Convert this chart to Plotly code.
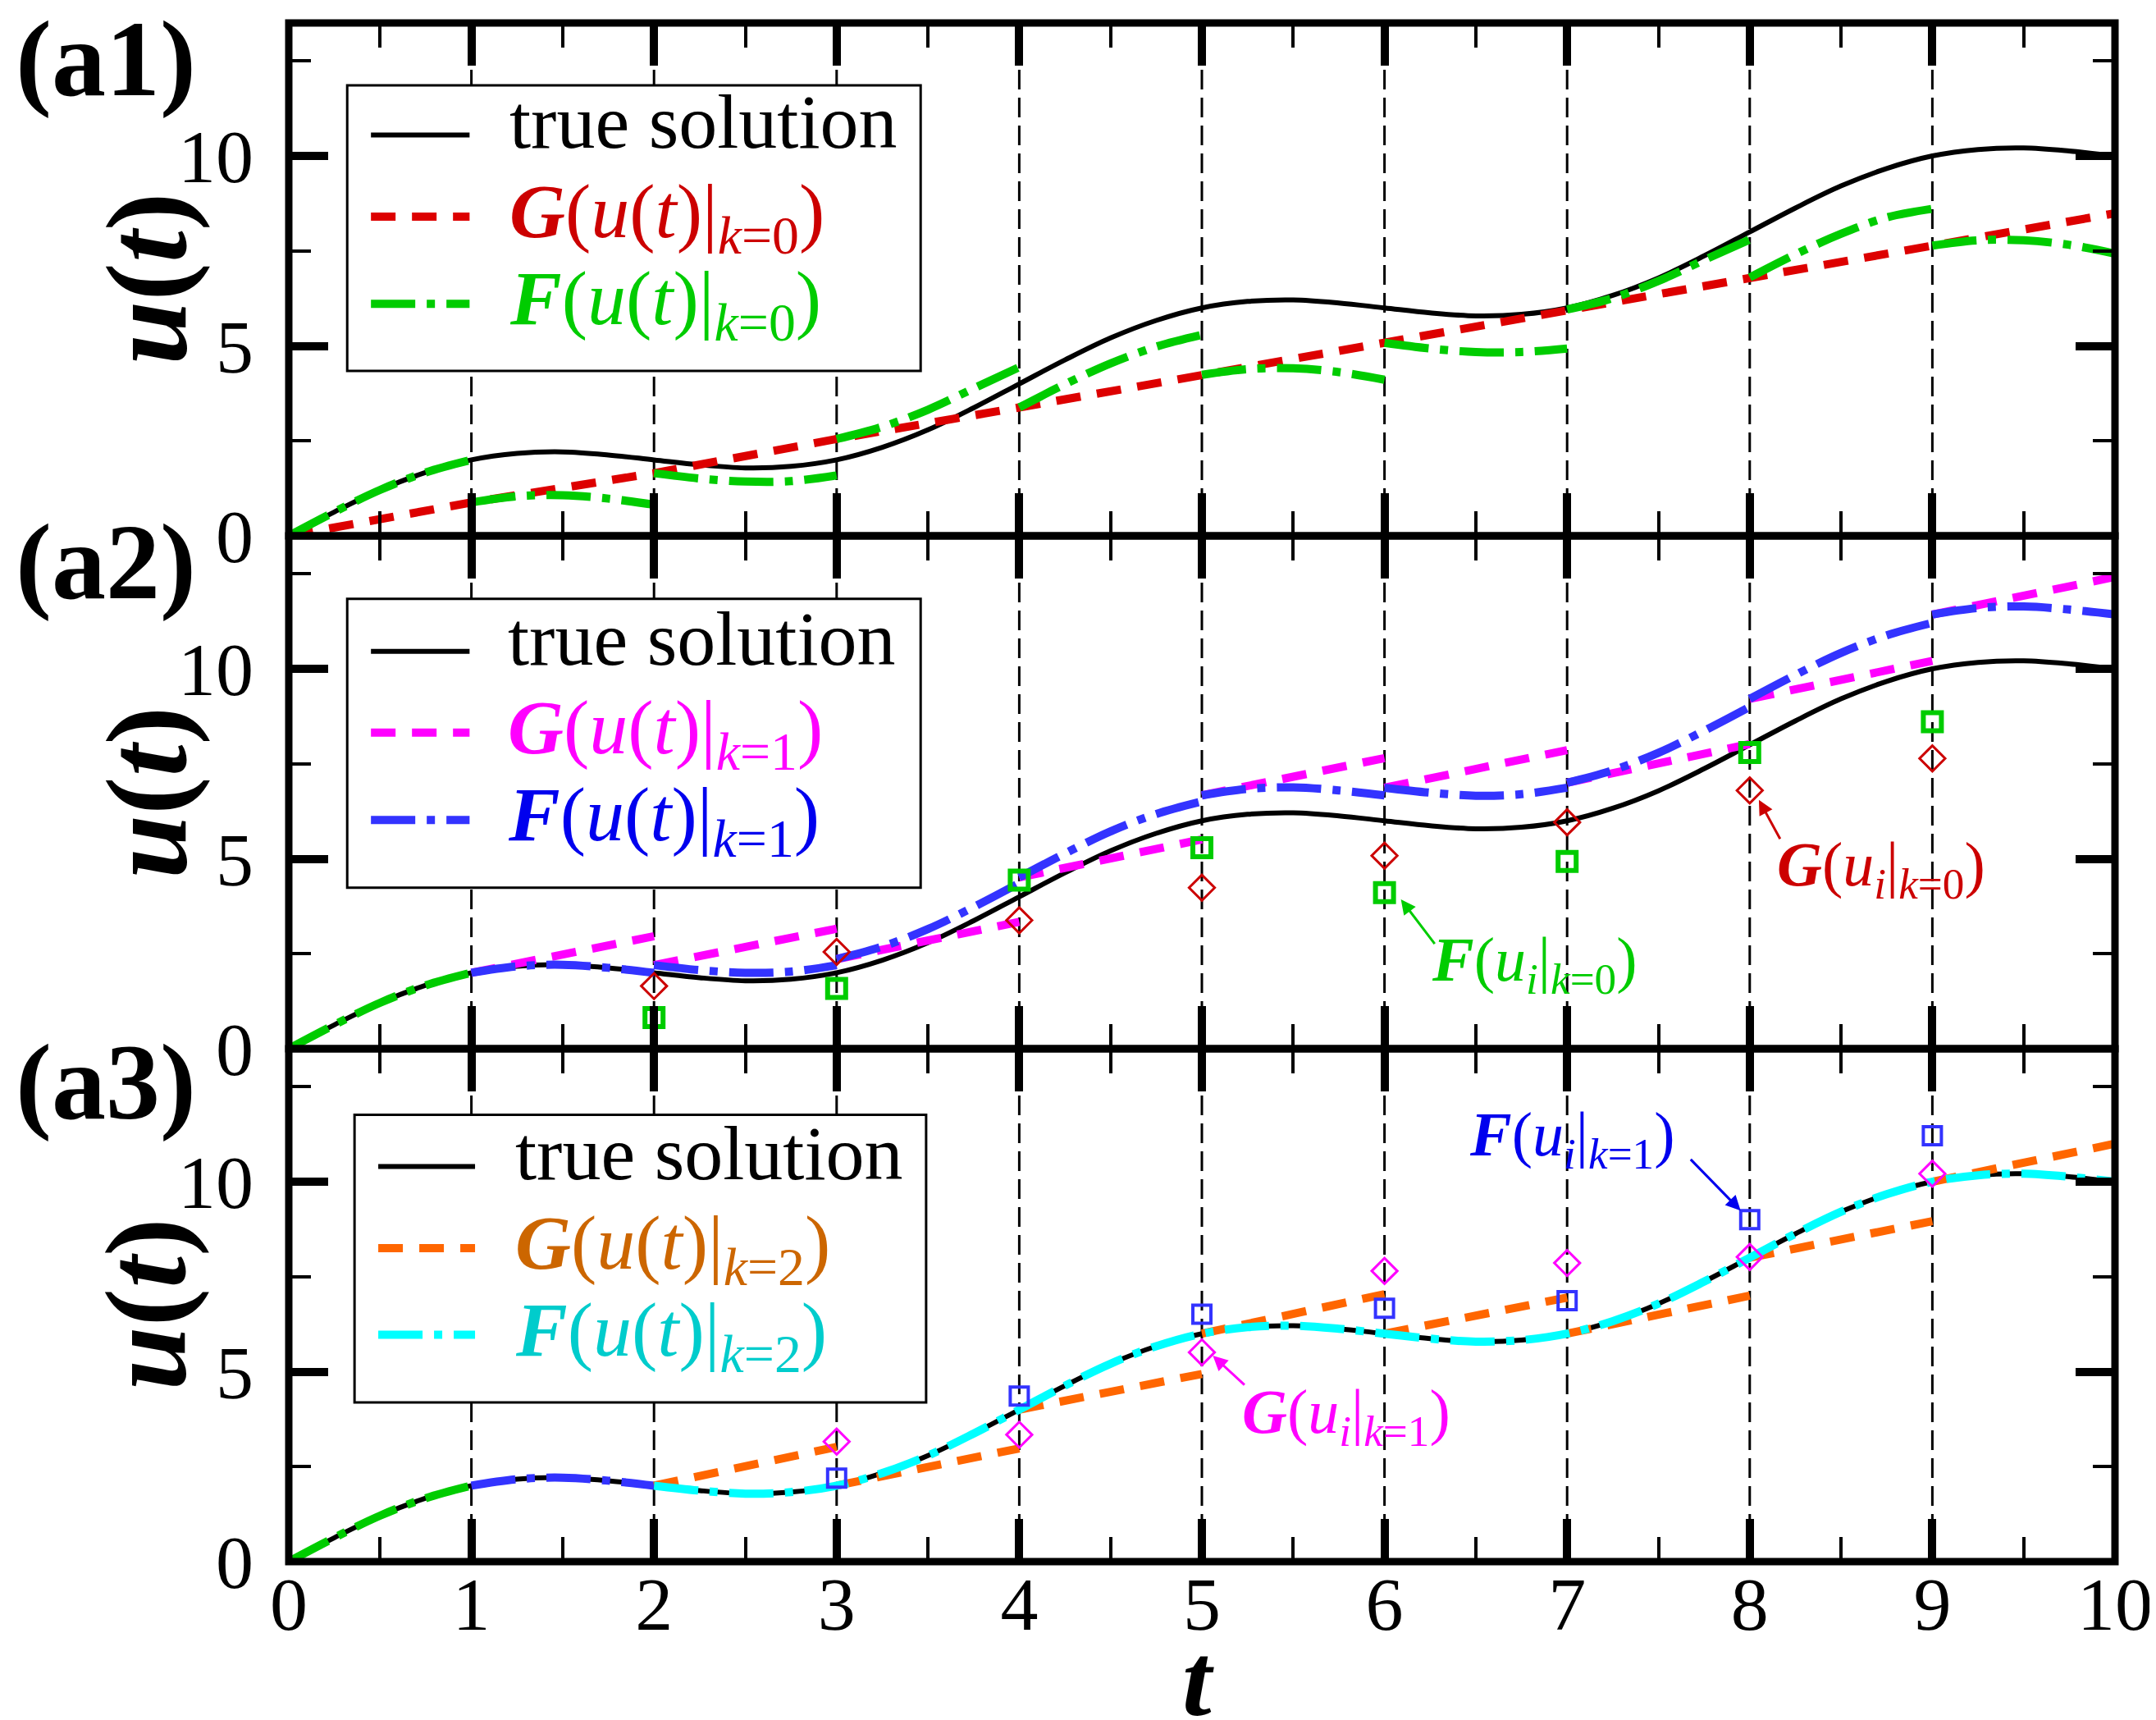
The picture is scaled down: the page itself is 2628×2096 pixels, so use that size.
import plotly.graph_objects as go
from plotly.subplots import make_subplots

# time nodes; fine output is sampled every quarter step inside each slice
t_fine = [i / 4 for i in range(41)]
t_nodes = list(range(11))
sub_t = [0, 0.25, 0.5, 0.75, 1.0]

u_true = [0.00, 0.63, 1.21, 1.67, 2.00, 2.17, 2.21, 2.13, 2.00, 1.87, 1.79,
          1.83, 2.00, 2.33, 2.79, 3.37, 4.00, 4.63, 5.21, 5.67, 6.00, 6.17,
          6.21, 6.13, 6.00, 5.87, 5.79, 5.83, 6.00, 6.33, 6.79, 7.37, 8.00,
          8.63, 9.21, 9.67, 10.00, 10.17, 10.21, 10.13, 10.00]

# k = 0
g_k0 = [0.00, 0.88, 1.65, 2.55, 3.38, 4.24, 5.08, 5.96, 6.80, 7.64, 8.49]
f_k0 = [  # one row per slice, slices 0..9
    [0.00, 0.63, 1.21, 1.67, 2.00],
    [0.88, 1.04, 1.07, 0.98, 0.82],
    [1.65, 1.51, 1.43, 1.44, 1.59],
    [2.55, 2.87, 3.32, 3.88, 4.44],
    [3.38, 3.99, 4.54, 4.98, 5.29],
    [4.24, 4.39, 4.41, 4.31, 4.11],
    [5.08, 4.93, 4.84, 4.84, 4.93],
    [5.96, 6.26, 6.71, 7.26, 7.80],
    [6.80, 7.41, 7.95, 8.38, 8.61],
    [7.64, 7.78, 7.78, 7.66, 7.43],
]

# k = 1 (slices 1..9)
g_k1_start = [2.00, 2.20, 2.36, 4.51, 6.67, 6.87, 7.00, 9.21, 11.43]
g_k1_end = [2.96, 3.16, 3.34, 5.51, 7.65, 7.86, 8.02, 10.21, 12.42]
f_k1 = [
    [2.00, 2.17, 2.21, 2.13, 2.00],
    [2.20, 2.07, 2.00, 2.03, 2.20],
    [2.36, 2.69, 3.15, 3.73, 4.36],
    [4.51, 5.14, 5.72, 6.18, 6.51],
    [6.67, 6.84, 6.88, 6.80, 6.67],
    [6.87, 6.74, 6.66, 6.70, 6.87],
    [7.00, 7.33, 7.79, 8.37, 9.00],
    [9.21, 9.84, 10.42, 10.88, 11.21],
    [11.43, 11.60, 11.64, 11.56, 11.43],
]

# k = 2 (slices 2..9); fine solution has converged onto the true one from t=2
g_k2_start = [2.00, 2.00, 4.00, 6.00, 6.00, 6.00, 8.00, 10.00]
g_k2_end = [3.02, 2.98, 4.94, 7.04, 6.95, 7.00, 8.96, 11.00]
t_k2 = t_fine[8:]
f_k2 = u_true[8:]

# markers
t_mk_a2 = [2, 3, 4, 5, 6, 7, 8, 9]
g_ui_k0 = [1.65, 2.55, 3.38, 4.24, 5.08, 5.96, 6.80, 7.64]
f_ui_k0 = [0.82, 1.59, 4.44, 5.29, 4.11, 4.93, 7.80, 8.61]
t_mk_a3 = [3, 4, 5, 6, 7, 8, 9]
g_ui_k1 = [3.16, 3.34, 5.51, 7.65, 7.86, 8.02, 10.21]
f_ui_k1 = [2.20, 4.36, 6.51, 6.67, 6.87, 9.00, 11.21]

slice_bounds = [1, 2, 3, 4, 5, 6, 7, 8, 9]


def segs(first, rows):
    xs, ys = [], []
    for n, row in enumerate(rows, start=first):
        xs += [n + s for s in sub_t] + [None]
        ys += list(row) + [None]
    return xs, ys


def lin_segs(first, starts, ends):
    xs, ys = [], []
    for n, (a, b) in enumerate(zip(starts, ends), start=first):
        xs += [n, n + 1, None]
        ys += [a, b, None]
    return xs, ys


FONT = "Liberation Serif, Times New Roman, serif"
DASH = "30px,20px"
DASHDOT = "54px,14px,10px,14px"
RED, GREEN, MAG, BLUE, ORANGE, CYAN = "#DD0000", "#00CC00", "#FF00FF", "#3333FF", "#FF6600", "#00FFFF"

fig = make_subplots(rows=3, cols=1, vertical_spacing=0)


def line(x, y, color, width, dash="solid", shape="spline", row=1):
    fig.add_trace(go.Scatter(x=x, y=y, mode="lines", showlegend=False,
                             line=dict(color=color, width=width, dash=dash, shape=shape)),
                  row=row, col=1)


def marks(x, y, color, symbol, size, lw, row):
    fig.add_trace(go.Scatter(x=x, y=y, mode="markers", showlegend=False,
                             marker=dict(symbol=symbol, size=size, color=color,
                                         line=dict(color=color, width=lw))),
                  row=row, col=1)


# (a1)
line(t_fine, u_true, "black", 6, row=1)
line(t_nodes, g_k0, RED, 10, DASH, "linear", row=1)
line(*segs(0, f_k0), GREEN, 10, DASHDOT, row=1)

# (a2)
line(t_fine, u_true, "black", 6, row=2)
line(*segs(0, f_k0[:1]), GREEN, 10, DASHDOT, row=2)
line(*lin_segs(1, g_k1_start, g_k1_end), MAG, 10, DASH, "linear", row=2)
line(*segs(1, f_k1), BLUE, 10, DASHDOT, row=2)
marks(t_mk_a2, g_ui_k0, "#CC0000", "diamond-open", 24, 3, 2)
marks(t_mk_a2, f_ui_k0, GREEN, "square-open", 22, 6, 2)

# (a3)
line(t_fine, u_true, "black", 6, row=3)
line(*segs(0, f_k0[:1]), GREEN, 10, DASHDOT, row=3)
line(*segs(1, f_k1[:1]), BLUE, 10, DASHDOT, row=3)
line(*lin_segs(2, g_k2_start, g_k2_end), ORANGE, 10, DASH, "linear", row=3)
line(t_k2, f_k2, CYAN, 10, DASHDOT, row=3)
marks(t_mk_a3, g_ui_k1, MAG, "diamond-open", 24, 3, 3)
marks(t_mk_a3, f_ui_k1, BLUE, "square-open", 22, 4, 3)

shapes, annots = [], []

legends = [
    dict(box=(0.32, 3.46, 4.34, 11.86), samp=(0.45, 0.99), tx=1.20, rows=(10.55, 8.40, 6.11),
         items=[("black", "solid", 6, "true solution", "black"),
                (RED, DASH, 10, "<b><i>G</i></b>(<i>u</i>(<i>t</i>)|<sub><i>k</i>=0</sub>)", "#CC0000"),
                (GREEN, DASHDOT, 10, "<b><i>F</i></b>(<i>u</i>(<i>t</i>)|<sub><i>k</i>=0</sub>)", GREEN)]),
    dict(box=(0.32, 3.46, 4.24, 11.84), samp=(0.45, 0.99), tx=1.19, rows=(10.46, 8.32, 6.02),
         items=[("black", "solid", 6, "true solution", "black"),
                (MAG, DASH, 10, "<b><i>G</i></b>(<i>u</i>(<i>t</i>)|<sub><i>k</i>=1</sub>)", MAG),
                (BLUE, DASHDOT, 10, "<b><i>F</i></b>(<i>u</i>(<i>t</i>)|<sub><i>k</i>=1</sub>)", "#0000EE")]),
    dict(box=(0.36, 3.49, 4.19, 11.76), samp=(0.49, 1.02), tx=1.23, rows=(10.40, 8.25, 5.97),
         items=[("black", "solid", 6, "true solution", "black"),
                (ORANGE, DASH, 10, "<b><i>G</i></b>(<i>u</i>(<i>t</i>)|<sub><i>k</i>=2</sub>)", "#CC6600"),
                (CYAN, DASHDOT, 10, "<b><i>F</i></b>(<i>u</i>(<i>t</i>)|<sub><i>k</i>=2</sub>)", "#00CCCC")]),
]
text_lift = (0.35, 0.0, 0.0)  # plain text row sits a little higher than its sample line

for i, lg in enumerate(legends):
    xr = "x" if i == 0 else f"x{i + 1}"
    yr = "y" if i == 0 else f"y{i + 1}"
    for t in slice_bounds:
        shapes.append(dict(type="line", xref=xr, yref=yr, x0=t, x1=t, y0=0, y1=13.5, layer="below",
                           line=dict(color="black", width=3, dash="24px,10px")))
    x0, x1, y0, y1 = lg["box"]
    shapes.append(dict(type="rect", xref=xr, yref=yr, x0=x0, x1=x1, y0=y0, y1=y1, layer="above",
                       fillcolor="white", line=dict(color="black", width=3)))
    for (lc, ld, lw, txt, tc), ry, lift in zip(lg["items"], lg["rows"], text_lift):
        shapes.append(dict(type="line", xref=xr, yref=yr, x0=lg["samp"][0], x1=lg["samp"][1],
                           y0=ry, y1=ry, layer="above", line=dict(color=lc, width=lw, dash=ld)))
        annots.append(dict(xref=xr, yref=yr, x=lg["tx"], y=ry + lift, text=txt, showarrow=False,
                           xanchor="left", yanchor="middle",
                           font=dict(family=FONT, size=94, color=tc)))
    # panel frame
    shapes.append(dict(type="rect", xref=f"{xr} domain", yref=f"{yr} domain", x0=0, x1=1, y0=0, y1=1,
                       layer="above", line=dict(color="black", width=9)))

# pointer labels
pointers = [
    ("x2", "y2", "<b><i>F</i></b>(<i>u</i><sub><i>i</i></sub>|<sub><i>k</i>=0</sub>)", GREEN,
     (6.82, 2.22), (6.28, 2.73), (6.09, 3.93)),
    ("x2", "y2", "<b><i>G</i></b>(<i>u</i><sub><i>i</i></sub>|<sub><i>k</i>=0</sub>)", "#CC0000",
     (8.72, 4.73), (8.17, 5.49), (8.05, 6.55)),
    ("x3", "y3", "<b><i>F</i></b>(<i>u</i><sub><i>i</i></sub>|<sub><i>k</i>=1</sub>)", "#0000EE",
     (7.03, 11.13), (7.67, 10.62), (7.95, 9.24)),
    ("x3", "y3", "<b><i>G</i></b>(<i>u</i><sub><i>i</i></sub>|<sub><i>k</i>=1</sub>)", MAG,
     (5.79, 3.82), (5.24, 4.62), (5.06, 5.42)),
]
for xr, yr, txt, col, tpos, tail, head in pointers:
    annots.append(dict(xref=xr, yref=yr, x=tpos[0], y=tpos[1], text=txt, showarrow=False,
                       xanchor="center", yanchor="middle",
                       font=dict(family=FONT, size=76, color=col)))
    annots.append(dict(xref=xr, yref=yr, axref=xr, ayref=yr, x=head[0], y=head[1],
                       ax=tail[0], ay=tail[1], text="", showarrow=True, arrowhead=2,
                       arrowsize=1.2, arrowwidth=3, arrowcolor=col))

# axis titles and panel tags
for name, yp in (("(a1)", 0.977), ("(a2)", 0.650), ("(a3)", 0.312)):
    annots.append(dict(xref="paper", yref="paper", x=-0.100, y=yp, text=f"<b>{name}</b>",
                       xanchor="center", yanchor="middle", showarrow=False,
                       font=dict(family=FONT, size=132, color="black")))
for yp in (0.834, 0.5, 0.1675):
    annots.append(dict(xref="paper", yref="paper", x=-0.078, y=yp,
                       text="<b><i>u</i>(<i>t</i>)</b>", textangle=-90,
                       xanchor="center", yanchor="middle", showarrow=False,
                       font=dict(family=FONT, size=140, color="black")))
annots.append(dict(xref="paper", yref="paper", x=0.498, y=-0.077, text="<b><i>t</i></b>",
                   xanchor="center", yanchor="middle", showarrow=False,
                   font=dict(family=FONT, size=128, color="black")))

tickfont = dict(family=FONT, size=92, color="black")
for r in (1, 2, 3):
    fig.update_xaxes(range=[0, 10], tick0=0, dtick=1, ticks="inside", ticklen=52, tickwidth=10,
                     tickcolor="black", mirror="allticks", showline=False, showgrid=False,
                     zeroline=False, showticklabels=(r == 3), tickfont=tickfont,
                     ticklabelstandoff=-10,
                     minor=dict(dtick=0.5, ticks="inside", ticklen=30, tickwidth=4,
                                tickcolor="black", showgrid=False),
                     row=r, col=1)
    fig.update_yaxes(range=[0, 13.5], tick0=0, dtick=5, ticks="inside", ticklen=48, tickwidth=10,
                     tickcolor="black", mirror="allticks", showline=False, showgrid=False,
                     zeroline=False, tickfont=tickfont, ticklabelstandoff=42,
                     minor=dict(dtick=2.5, ticks="inside", ticklen=27, tickwidth=4,
                                tickcolor="black", showgrid=False),
                     row=r, col=1)

fig.update_layout(width=2628, height=2096, plot_bgcolor="white", paper_bgcolor="white",
                  margin=dict(l=344, r=54, t=20, b=201), showlegend=False,
                  shapes=shapes, annotations=annots)

fig.write_html("out.html")
